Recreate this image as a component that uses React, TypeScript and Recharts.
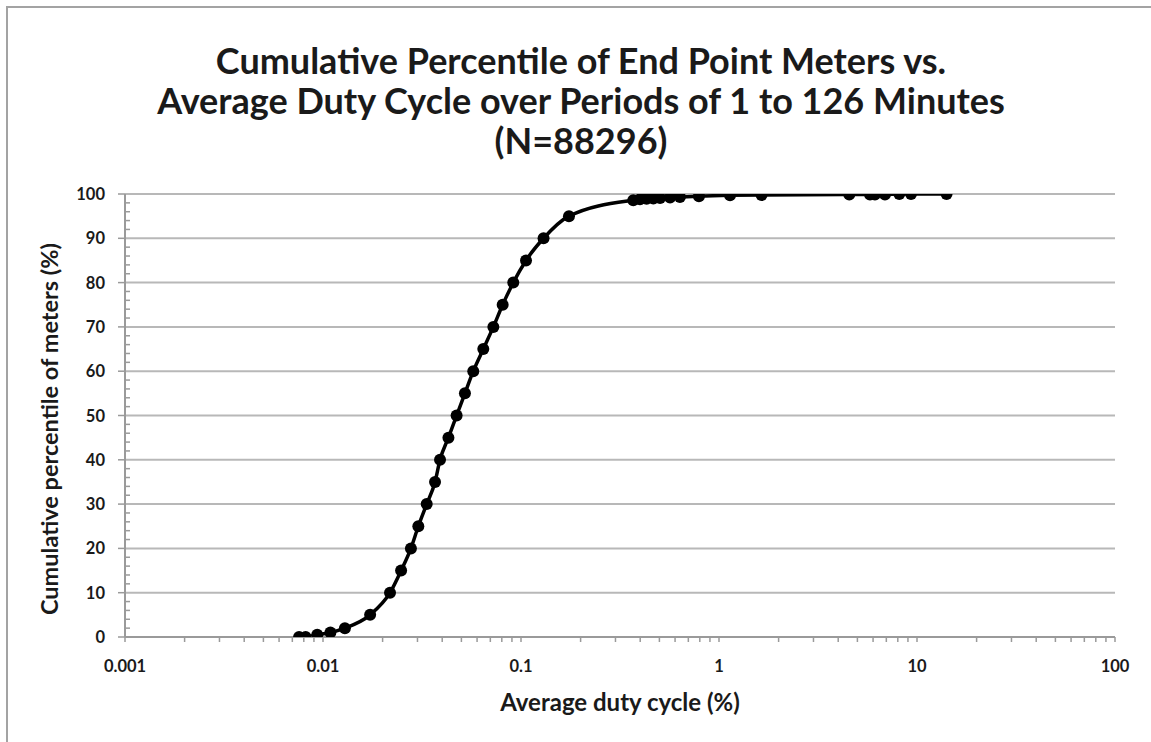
import React from 'react';
import { LineChart, Line, XAxis, YAxis, CartesianGrid } from 'recharts';

// ─── Data ────────────────────────────────────────────────────────────────────

// average duty cycle (%), log scale
const DUTY = [
  0.00757, 0.00817, 0.00935, 0.0109, 0.0129, 0.0173, 0.0218, 0.0248, 0.0278,
  0.0303, 0.0334, 0.0368, 0.039, 0.043, 0.0473, 0.0521, 0.0574, 0.0645, 0.0725,
  0.0808, 0.0914, 0.106, 0.13, 0.1747, 0.369, 0.399, 0.431, 0.466, 0.504, 0.566,
  0.635, 0.792, 1.137, 1.64, 4.55, 5.79, 6.13, 6.89, 8.14, 9.33, 14.1,
];
// cumulative percentile of meters (%)
const PCT = [
  0, 0, 0.5, 1, 2, 5, 10, 15, 20,
  25, 30, 35, 40, 45, 50, 55, 60, 65, 70,
  75, 80, 85, 90, 95, 98.6, 98.8, 98.9, 99.0, 99.1, 99.2,
  99.3, 99.5, 99.7, 99.8, 99.9, 99.9, 99.9, 99.9, 100, 100, 100,
];

const X_MAJOR = [0.001, 0.01, 0.1, 1, 10, 100];
const X_LABELS = ['0.001', '0.01', '0.1', '1', '10', '100'];
const Y_MAJOR = [0, 10, 20, 30, 40, 50, 60, 70, 80, 90, 100];

const TITLE = [
  'Cumulative Percentile of End Point Meters vs.',
  'Average Duty Cycle over Periods of 1 to 126 Minutes',
  '(N=88296)',
];

// ─── Style ───────────────────────────────────────────────────────────────────

const FONT = 'Lato, "DejaVu Sans", sans-serif';
const C = {
  ink: '#1a1a1a',
  axis: '#9a9a9a',
  grid: '#b8b8b8',
  border: '#a3a3a3',
  series: '#000000',
};

const data = DUTY.map((x, i) => ({ x, y: PCT[i] }));

// minor ticks 2..9 inside every decade, plus the majors
const X_TICKS: number[] = [];
X_MAJOR.forEach((d, i) => {
  X_TICKS.push(d);
  if (i < X_MAJOR.length - 1) for (let m = 2; m <= 9; m++) X_TICKS.push(+(d * m).toPrecision(3));
});
const Y_TICKS: number[] = [];
for (let v = 0; v <= 100; v += 2) Y_TICKS.push(v);

function XTick({ x, y, payload }: any) {
  const idx = X_MAJOR.findIndex(v => Math.abs(v - payload.value) < v * 1e-6);
  return (
    <g>
      <line x1={x} x2={x} y1={y} y2={y + 5} stroke={C.axis} strokeWidth={1.5} />
      {idx >= 0 && (
        <text x={x} y={y + 35} textAnchor="middle" fontFamily={FONT} fontWeight={700} fontSize={16.5} fill={C.ink}>
          {X_LABELS[idx]}
        </text>
      )}
    </g>
  );
}

function YTick({ x, y, payload }: any) {
  const major = payload.value % 10 === 0;
  return (
    <g>
      {major
        ? <line x1={x - 7} x2={x} y1={y} y2={y} stroke={C.axis} strokeWidth={1.5} />
        : <line x1={x} x2={x + 5} y1={y} y2={y} stroke={C.axis} strokeWidth={1.5} />}
      {major && (
        <text x={x - 20} y={y + 6} textAnchor="end" fontFamily={FONT} fontWeight={700} fontSize={16.5} fill={C.ink}>
          {payload.value}
        </text>
      )}
    </g>
  );
}

export default function App() {
  return (
    <div style={{ position: 'absolute', left: 0, top: 0, width: 1151, height: 742, overflow: 'hidden', background: '#fff' }}>
      {/* chart area frame (only top/left edges fall inside the picture) */}
      <div style={{ position: 'absolute', left: 6, top: 6, width: 1160, height: 760, border: `2px solid ${C.border}` }} />

      <div style={{ position: 'absolute', left: 0, top: 40, width: 1162, textAlign: 'center', fontFamily: FONT, fontWeight: 700, fontSize: 36, lineHeight: '40px', color: C.ink }}>
        {TITLE.map(t => <div key={t}>{t}</div>)}
      </div>

      <div style={{ position: 'absolute', left: 0, top: 0 }}>
        <LineChart width={1151} height={742} data={data} margin={{ top: 194, right: 36, bottom: 0, left: 0 }}>
          <CartesianGrid vertical={false} horizontalValues={Y_MAJOR.slice(1)} stroke={C.grid} strokeWidth={2} />
          <XAxis
            dataKey="x" type="number" scale="log" domain={[0.001, 100]} allowDataOverflow
            ticks={X_TICKS} interval={0} tick={<XTick />} tickSize={0} tickMargin={0} tickLine={false}
            height={105} axisLine={{ stroke: C.axis, strokeWidth: 2 }}
          />
          <YAxis
            dataKey="y" type="number" domain={[0, 100]} allowDataOverflow
            ticks={Y_TICKS} interval={0} tick={<YTick />} tickSize={0} tickMargin={0} tickLine={false}
            width={125} axisLine={{ stroke: C.axis, strokeWidth: 2 }}
          />
          <Line
            type="monotone" dataKey="y" stroke={C.series} strokeWidth={3.5}
            dot={{ r: 6, fill: C.series, stroke: C.series, strokeWidth: 0 }}
            isAnimationActive={false}
          />
        </LineChart>
      </div>

      <div style={{ position: 'absolute', left: 0, top: 687, width: 1240, textAlign: 'center', fontFamily: FONT, fontWeight: 700, fontSize: 24, lineHeight: '30px', color: C.ink }}>
        Average duty cycle (%)
      </div>
      <div style={{ position: 'absolute', left: 49, top: 429, width: 440, marginLeft: -220, marginTop: -15, textAlign: 'center', transform: 'rotate(-90deg)', fontFamily: FONT, fontWeight: 700, fontSize: 23.5, lineHeight: '30px', color: C.ink }}>
        Cumulative percentile of meters (%)
      </div>
    </div>
  );
}
